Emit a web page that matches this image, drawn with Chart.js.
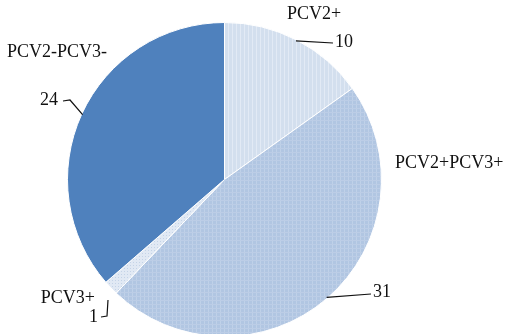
<!DOCTYPE html>
<html>
<head>
<meta charset="utf-8">
<script src="https://cdn.jsdelivr.net/npm/chart.js@4.4.1/dist/chart.umd.min.js"></script>
<style>
  html, body { margin: 0; padding: 0; background: #fff; overflow: hidden; }
  #wrap { width: 515px; height: 334px; overflow: hidden; }
  canvas { display: block; }
</style>
</head>
<body>
<div id="wrap"><canvas id="pie" width="515" height="340"></canvas></div>
<script>
// Sample groups and their counts
const categories = ['PCV2+', 'PCV2+PCV3+', 'PCV3+', 'PCV2-PCV3-'];
const counts = [10, 31, 1, 24];

// Hatched fills for the slices
function stripePattern(base, line, horiz) {
  const c = document.createElement('canvas');
  c.width = 4; c.height = 4;
  const g = c.getContext('2d');
  g.fillStyle = base; g.fillRect(0, 0, 4, 4);
  g.fillStyle = line; g.fillRect(0, 0, 1, 4);
  if (horiz) { g.fillStyle = horiz; g.fillRect(0, 0, 4, 1); }
  return g.createPattern(c, 'repeat');
}
function dotPattern(base, dot) {
  const c = document.createElement('canvas');
  c.width = 3; c.height = 3;
  const g = c.getContext('2d');
  g.fillStyle = base; g.fillRect(0, 0, 3, 3);
  g.fillStyle = dot; g.fillRect(1, 1, 1, 1);
  return g.createPattern(c, 'repeat');
}
const fills = [
  stripePattern('#d3dfee', '#e2eaf5'),
  stripePattern('#b1c6e2', '#bfd1e8', '#bccde6'),
  dotPattern('#e1e9f4', '#c4d3e7'),
  '#4f81bd'
];

// Label placement per slice: name/value text anchors and leader bends
const labelLayout = [
  { name: { x: 314, y: 14, align: 'center' }, value: { x: 335, y: 42, align: 'left' }, leader: [[333, 43]] },
  { name: { x: 395, y: 163, align: 'left' }, value: { x: 373, y: 292, align: 'left' }, leader: [[371, 294]] },
  { name: { x: 95, y: 298, align: 'right' }, value: { x: 98, y: 317, align: 'right' }, leader: [[107, 316], [101, 317]] },
  { name: { x: 7, y: 52, align: 'left' }, value: { x: 58, y: 100, align: 'right' }, leader: [[70, 100], [63, 101]] }
];

const pieLabels = {
  id: 'pieLabels',
  afterDatasetsDraw(chart) {
    const ctx = chart.ctx;
    const meta = chart.getDatasetMeta(0);
    ctx.save();
    ctx.font = '18px "Liberation Serif", "Times New Roman", serif';
    ctx.fillStyle = '#111';
    ctx.textBaseline = 'middle';
    meta.data.forEach((arc, i) => {
      const lay = labelLayout[i];
      const mid = (arc.startAngle + arc.endAngle) / 2;
      const r = arc.outerRadius - 1;
      let sx = arc.x + Math.cos(mid) * r;
      let sy = arc.y + Math.sin(mid) * r;
      if (i === 2) { sx = 108; sy = 300; }
      if (i !== 1 || true) {
        ctx.beginPath();
        ctx.strokeStyle = '#111';
        ctx.lineWidth = 1.2;
        ctx.moveTo(sx, sy);
        lay.leader.forEach(p => ctx.lineTo(p[0], p[1]));
        ctx.stroke();
      }
      ctx.textAlign = lay.name.align;
      ctx.fillText(chart.data.labels[i], lay.name.x, lay.name.y);
      ctx.textAlign = lay.value.align;
      ctx.fillText(String(chart.data.datasets[0].data[i]), lay.value.x, lay.value.y);
    });
    ctx.restore();
  }
};

new Chart(document.getElementById('pie'), {
  type: 'pie',
  data: {
    labels: categories,
    datasets: [{
      data: counts,
      backgroundColor: fills,
      borderColor: '#ffffff',
      borderWidth: 1
    }]
  },
  options: {
    responsive: false,
    animation: false,
    devicePixelRatio: 1,
    layout: { padding: { left: 67, right: 133, top: 22, bottom: 3 } },
    plugins: { legend: { display: false }, tooltip: { enabled: false } }
  },
  plugins: [pieLabels]
});
</script>
</body>
</html>
